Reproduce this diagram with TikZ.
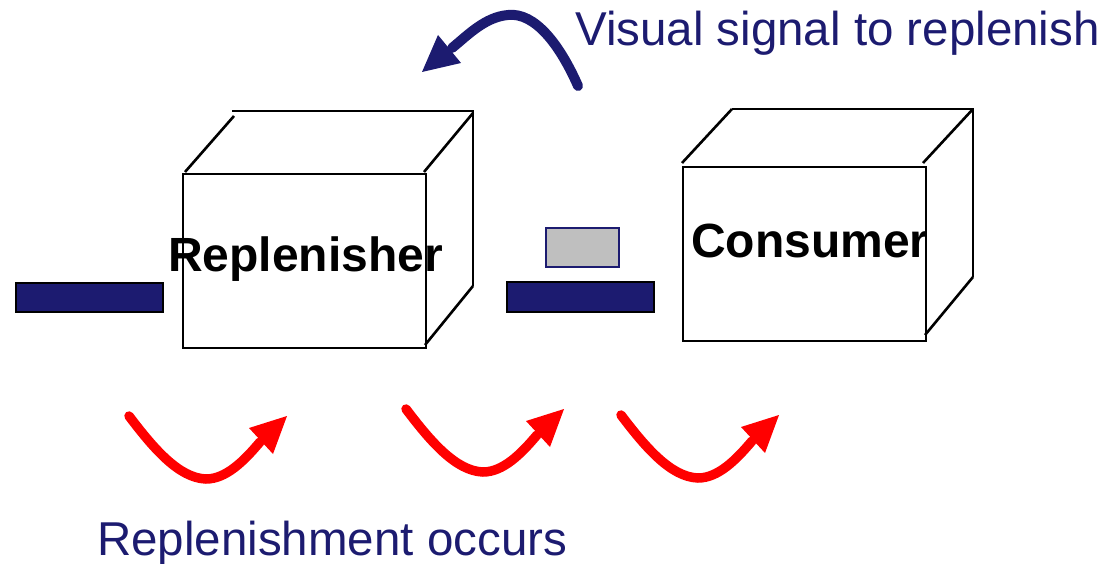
\documentclass[tikz,border=0pt]{standalone}
\usepackage{fontspec}
\setmainfont{Liberation Sans}
\definecolor{navy}{RGB}{28,27,112}
\definecolor{boxgray}{RGB}{191,191,191}
\begin{document}
\begin{tikzpicture}[x=1pt,y=-1pt,
  edge/.style={draw=black,line width=2.6pt},
  frontbox/.style={draw=black,line width=2.6pt,inner sep=0pt,fill=none},
  bar/.style={draw=black,fill=navy,line width=1.6pt},
  card/.style={draw=navy,fill=boxgray,line width=1.4pt},
  boldlabel/.style={anchor=base west,inner sep=0pt,font=\fontsize{48pt}{50pt}\selectfont\bfseries},
  bluelabel/.style={anchor=base west,inner sep=0pt,text=navy,font=\fontsize{47.5pt}{50pt}\selectfont},
  redshaft/.style={draw=red,line width=9.5pt,line cap=round},
  blueshaft/.style={draw=navy,line width=10pt,line cap=round},
  redarrow/.pic={
    \draw[redshaft] (0,0) .. controls (25,33) and (50,62) .. (77,63)
                         .. controls (97,63) and (115,45) .. (131,26);
    \fill[red] (158,0) -- (120,12) -- (144,38) -- cycle;
  }]
\useasboundingbox (0,0) rectangle (1107,564);

% Replenisher box
\draw[edge] (232,111) -- (473,111) -- (473,286);
\draw[edge] (185,172) -- (234,116);
\draw[edge] (424,172) -- (473,113);
\draw[edge] (473,286) -- (425,345);
\node[frontbox,minimum width=243pt,minimum height=174pt] (rep) at (304.5,261) {};
\node[boldlabel] (replabel) at (168,271) {Replenisher};

% Consumer box
\draw[edge] (732,109) -- (973,109) -- (973,277);
\draw[edge] (682,163) -- (732,109);
\draw[edge] (923,163) -- (973,109);
\draw[edge] (973,277) -- (925,335);
\node[frontbox,minimum width=243pt,minimum height=174pt] (con) at (804.5,254) {};
\node[boldlabel] (conlabel) at (691,257) {Consumer};

% bars and card
\path[bar] (16,283) rectangle (163,312);
\node[bar,minimum width=147pt,minimum height=30pt,inner sep=0pt] (midbar) at (580.5,297) {};
\node[card,minimum width=73pt,minimum height=39pt,inner sep=0pt] (card) at (582.5,247.5) {};

% blue signal arrow
\coordinate (btail) at (578,86);
\coordinate (btip) at (422,72);
\draw[blueshaft] (btail) .. controls (560,45) and (535,12) .. (508,15)
                 .. controls (485,17) and (468,35) .. (452,48);
\fill[navy] (btip) -- (438,35) -- (461,63) -- cycle;

% red replenishment arrows
\pic at (129,416) {redarrow};
\pic at (406,409) {redarrow};
\pic at (621,415) {redarrow};

% labels
\node[bluelabel] (signal) at (575,46) {Visual signal to replenish};
\node[bluelabel] (occurs) at (97,555) {Replenishment occurs};
\end{tikzpicture}
\end{document}
